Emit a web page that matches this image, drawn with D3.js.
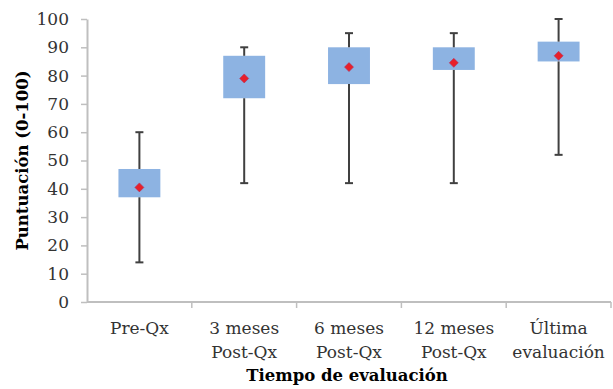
<!DOCTYPE html>
<html>
<head>
<meta charset="utf-8">
<script src="https://cdn.jsdelivr.net/npm/d3@7"></script>
<style>
  html, body { margin: 0; padding: 0; background: #fff; }
  svg { display: block; }
</style>
</head>
<body>
<svg id="chart" width="613" height="389"></svg>
<script>
// Evaluation times (two-line labels split on "\n")
const categories = ["Pre-Qx", "3 meses\nPost-Qx", "6 meses\nPost-Qx", "12 meses\nPost-Qx", "Última\nevaluación"];
// Box-plot statistics per evaluation time
const whiskerMin = [14, 42, 42, 42, 52];
const boxLow     = [37, 72, 77, 82, 85];
const boxHigh    = [47, 87, 90, 90, 92];
const whiskerMax = [60, 90, 95, 95, 100];
const meanValue  = [40.5, 79, 83, 84.5, 87];
const yTicks     = [0, 10, 20, 30, 40, 50, 60, 70, 80, 90, 100];

const rows = categories.map((c, i) => ({
  cat: c, lo: whiskerMin[i], q1: boxLow[i], q3: boxHigh[i], hi: whiskerMax[i], mean: meanValue[i]
}));

const svg = d3.select("#chart");
const margin = { left: 87, right: 2, top: 19, bottom: 87 };
const W = 613, H = 389;

const x = d3.scaleBand().domain(categories).range([margin.left, W - margin.right]).padding(0);
const y = d3.scaleLinear().domain([0, 100]).range([H - margin.bottom, margin.top]);

const font = "'DejaVu Serif', serif";
const axisColor = "#bfbfbf";
const textColor = "#333333";

// Y axis
const yAxis = svg.append("g")
  .attr("transform", `translate(${margin.left},0)`)
  .call(d3.axisLeft(y).tickValues(yTicks).tickSize(6).tickPadding(12).tickSizeOuter(0));
yAxis.select(".domain").attr("stroke", axisColor).attr("stroke-width", 2);
yAxis.selectAll(".tick line").attr("stroke", axisColor).attr("stroke-width", 1.5);
yAxis.selectAll(".tick text").attr("fill", textColor).style("font-family", font).style("font-size", "17px");

// X axis with ticks on category boundaries
const xAxisG = svg.append("g").attr("transform", `translate(0,${y(0)})`);
xAxisG.append("line")
  .attr("x1", margin.left).attr("x2", W - margin.right)
  .attr("stroke", axisColor).attr("stroke-width", 2);
const boundaries = categories.map(c => x(c)).concat([x(categories[categories.length - 1]) + x.bandwidth()]);
xAxisG.selectAll(".xtick").data(boundaries.slice(1)).join("line")
  .attr("x1", d => d).attr("x2", d => d).attr("y1", 0).attr("y2", 6)
  .attr("stroke", axisColor).attr("stroke-width", 1.5);

// Category labels
const labels = svg.append("g").selectAll("text").data(categories).join("text")
  .attr("x", d => x(d) + x.bandwidth() / 2)
  .attr("y", y(0) + 32)
  .attr("text-anchor", "middle")
  .attr("fill", textColor)
  .style("font-family", font).style("font-size", "17px");
labels.each(function (d) {
  d3.select(this).selectAll("tspan").data(d.split("\n")).join("tspan")
    .attr("x", x(d) + x.bandwidth() / 2)
    .attr("dy", (t, i) => i === 0 ? 0 : 24)
    .text(t => t);
});

// Axis titles
svg.append("text")
  .attr("x", (margin.left + W - margin.right) / 2 - 2)
  .attr("y", 381)
  .attr("text-anchor", "middle")
  .attr("fill", "#000")
  .style("font-family", font).style("font-size", "16.5px").style("font-weight", "bold")
  .text("Tiempo de evaluación");

svg.append("text")
  .attr("transform", `translate(28,${(y(0) + y(100)) / 2}) rotate(-90)`)
  .attr("text-anchor", "middle")
  .attr("fill", "#000")
  .style("font-family", font).style("font-size", "16.5px").style("font-weight", "bold")
  .text("Puntuación (0-100)");

// Boxes, whiskers and mean markers
const boxW = x.bandwidth() * 0.4;
const capW = 8;
const g = svg.append("g");
const item = g.selectAll("g.item").data(rows).join("g").attr("class", "item")
  .attr("transform", d => `translate(${x(d.cat) + x.bandwidth() / 2},0)`);

item.append("rect")
  .attr("x", -boxW / 2).attr("width", boxW)
  .attr("y", d => y(d.q3)).attr("height", d => y(d.q1) - y(d.q3))
  .attr("fill", "#8db3e2");

item.append("line")
  .attr("x1", 0).attr("x2", 0)
  .attr("y1", d => y(d.hi)).attr("y2", d => y(d.q3))
  .attr("stroke", "#404040").attr("stroke-width", 2);
item.append("line")
  .attr("x1", 0).attr("x2", 0)
  .attr("y1", d => y(d.q1)).attr("y2", d => y(d.lo))
  .attr("stroke", "#404040").attr("stroke-width", 2);
item.append("line")
  .attr("x1", -capW / 2).attr("x2", capW / 2)
  .attr("y1", d => y(d.hi)).attr("y2", d => y(d.hi))
  .attr("stroke", "#404040").attr("stroke-width", 2);
item.append("line")
  .attr("x1", -capW / 2).attr("x2", capW / 2)
  .attr("y1", d => y(d.lo)).attr("y2", d => y(d.lo))
  .attr("stroke", "#404040").attr("stroke-width", 2);

item.append("path")
  .attr("transform", d => `translate(0,${y(d.mean)})`)
  .attr("d", "M0,-4.5L4.5,0L0,4.5L-4.5,0Z")
  .attr("fill", "#e8202a")
  .attr("stroke", "#b03060").attr("stroke-width", 0.6);
</script>
</body>
</html>
